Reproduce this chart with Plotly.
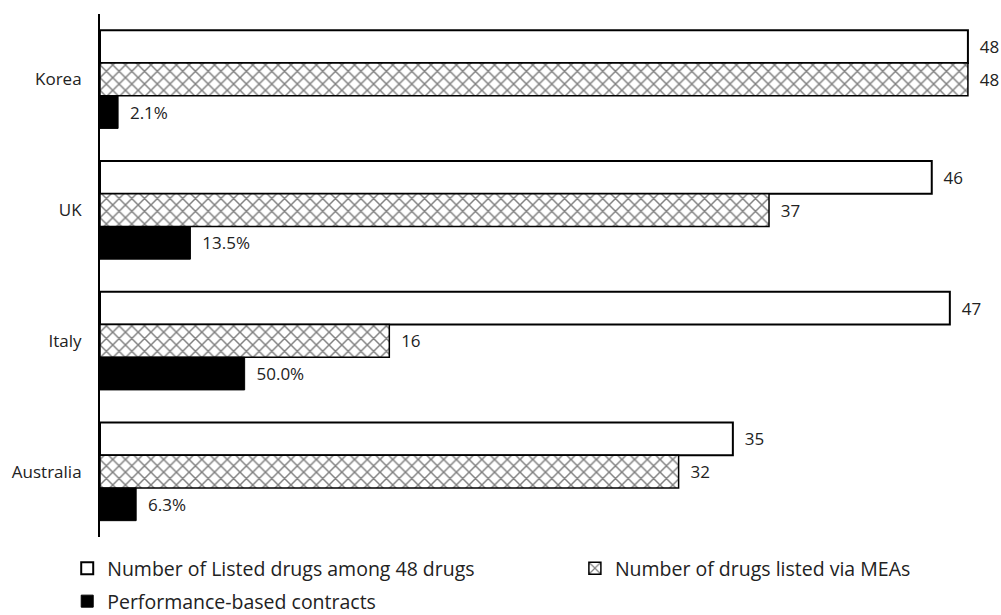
import plotly.graph_objects as go

countries = ["Korea", "UK", "Italy", "Australia"]
listed = [48, 46, 47, 35]
via_meas = [48, 37, 16, 32]
performance = [1, 5, 8, 2]
performance_labels = ["2.1%", "13.5%", "50.0%", "6.3%"]

series_names = ["Number of Listed drugs among 48 drugs",
                "Number of drugs listed via MEAs",
                "Performance-based contracts"]

FONT = "Open Sans"
TXT = "#222"
PAD = "\u00a0\u00a0"
lab = dict(size=17, color=TXT, family=FONT)

fig = go.Figure()
fig.add_trace(go.Bar(
    y=countries, x=listed, orientation="h", name=series_names[0], legend="legend",
    marker=dict(color="white", line=dict(color="black", width=2)),
    text=[str(v) for v in listed], texttemplate=PAD + "%{text}", textposition="outside",
    textfont=lab, cliponaxis=False))
fig.add_trace(go.Bar(
    y=countries, x=via_meas, orientation="h", name=series_names[1], legend="legend2",
    marker=dict(color="white", line=dict(color="black", width=1.5),
                pattern=dict(shape="x", fgcolor="black", bgcolor="white", size=9, solidity=0.3)),
    text=[str(v) for v in via_meas], texttemplate=PAD + "%{text}", textposition="outside",
    textfont=lab, cliponaxis=False))
fig.add_trace(go.Bar(
    y=countries, x=performance, orientation="h", name=series_names[2], legend="legend3",
    marker=dict(color="black", line=dict(color="black", width=1)),
    text=performance_labels, texttemplate=PAD + "%{text}", textposition="outside",
    textfont=lab, cliponaxis=False))

leg_common = dict(font=dict(size=19.5, family=FONT, color=TXT), itemwidth=30,
                  bgcolor="rgba(0,0,0,0)", orientation="h",
                  xref="paper", yref="container", xanchor="left", yanchor="top")

fig.update_layout(
    width=1001, height=615,
    margin=dict(l=100, r=15, t=14, b=75),
    barmode="group", bargap=0.25, bargroupgap=0,
    plot_bgcolor="white", paper_bgcolor="white",
    font=dict(family=FONT, size=17, color=TXT),
    xaxis=dict(range=[0, 49], visible=False, showgrid=False, zeroline=False),
    yaxis=dict(autorange="reversed", showline=True, linecolor="black", linewidth=2,
               ticks="", showgrid=False, tickfont=dict(size=17, family=FONT, color=TXT),
               ticklabelstandoff=13),
    legend=dict(x=-0.037, y=0.1073, **leg_common),
    legend2=dict(x=0.536, y=0.1073, **leg_common),
    legend3=dict(x=-0.037, y=0.0537, **leg_common),
    showlegend=True,
)

fig.write_html("out.html")
